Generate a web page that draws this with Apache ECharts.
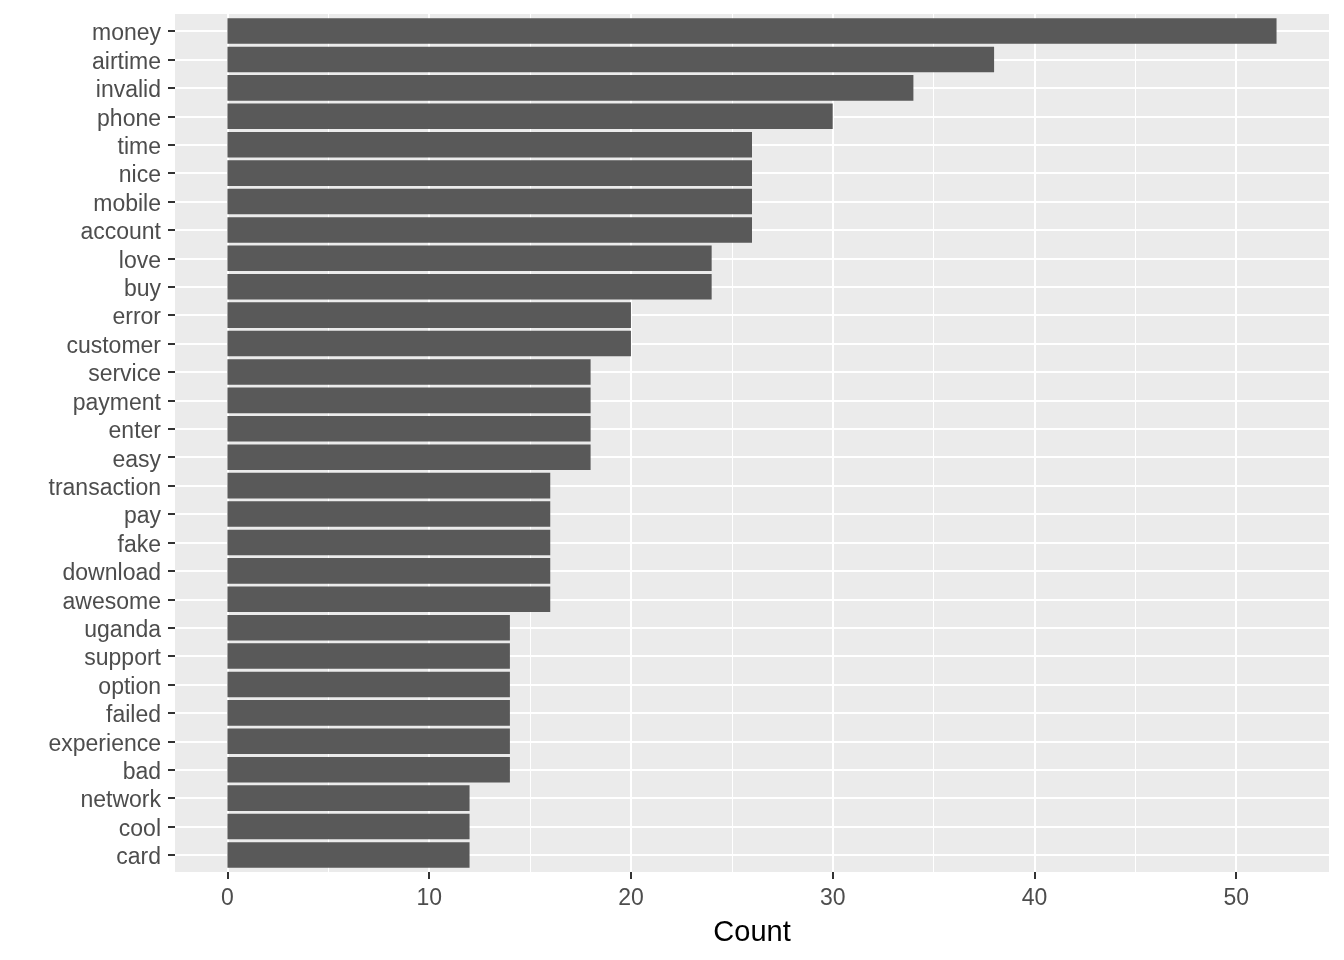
<!DOCTYPE html>
<html>
<head>
<meta charset="utf-8">
<script src="https://cdn.jsdelivr.net/npm/echarts@6/dist/echarts.min.js"></script>
<style>
  html, body { margin: 0; padding: 0; background: #fff; }
  #chart { width: 1344px; height: 960px; }
</style>
</head>
<body>
<div id="chart"></div>
<script>
let words = ['money', 'airtime', 'invalid', 'phone', 'time', 'nice', 'mobile', 'account', 'love', 'buy',
  'error', 'customer', 'service', 'payment', 'enter', 'easy', 'transaction', 'pay', 'fake', 'download',
  'awesome', 'uganda', 'support', 'option', 'failed', 'experience', 'bad', 'network', 'cool', 'card']
let counts = [52, 38, 34, 30, 26, 26, 26, 26, 24, 24,
  20, 20, 18, 18, 18, 18, 16, 16, 16, 16,
  16, 14, 14, 14, 14, 14, 14, 12, 12, 12]
let majorTicks = [0, 10, 20, 30, 40, 50]
let minorTicks = [5, 15, 25, 35, 45]

// panel box (ggplot style)
const panel = { left: 175, right: 15, top: 14, bottom: 88 }
const panelH = 960 - panel.top - panel.bottom
// discrete axis expands 0.6 on each side
const pad = 0.6 * panelH / (words.length - 1 + 1.2)
// continuous axis expands 5%
const xMax = Math.max(...counts)
const xMin = -0.05 * xMax
const xTop = xMax * 1.05

const font = 'Liberation Sans, Arial, sans-serif'
const labelColor = '#4D4D4D'

let chart = echarts.init(document.getElementById('chart'), null, { renderer: 'canvas' })

let option = {
  backgroundColor: '#ffffff',
  animation: false,
  grid: [
    { // the grey panel
      left: panel.left, right: panel.right, top: panel.top, bottom: panel.bottom,
      show: true, backgroundColor: '#EBEBEB', borderWidth: 0
    },
    { // bars, inset by the discrete expansion
      left: panel.left, right: panel.right, top: panel.top + pad, bottom: panel.bottom + pad
    }
  ],
  xAxis: [
    {
      gridIndex: 1, type: 'value', min: xMin, max: xTop, show: false
    },
    {
      gridIndex: 0, type: 'value', min: xMin, max: xTop,
      axisLine: { show: false, onZero: false },
      axisTick: { show: true, length: 7, customValues: majorTicks, lineStyle: { color: '#333333', width: 2 } },
      axisLabel: { customValues: majorTicks, margin: 15, fontSize: 23, fontFamily: font, color: labelColor },
      splitLine: { show: true, lineStyle: { color: '#ffffff', width: 2 } },
      name: 'Count', nameLocation: 'middle', nameGap: 46,
      nameTextStyle: { fontSize: 29, fontFamily: font, color: '#000000' }
    },
    {
      gridIndex: 0, type: 'value', min: xMin, max: xTop,
      axisLine: { show: false, onZero: false },
      axisTick: { show: false, customValues: minorTicks },
      axisLabel: { show: false, customValues: minorTicks },
      splitLine: { show: true, lineStyle: { color: '#ffffff', width: 1 } }
    }
  ],
  yAxis: [
    {
      gridIndex: 1, type: 'category', data: words, inverse: true, boundaryGap: false,
      position: 'left',
      axisLine: { show: false, onZero: false },
      axisTick: { show: true, interval: 0, length: 7, lineStyle: { color: '#333333', width: 2 } },
      axisLabel: {
        interval: 0, margin: 14, formatter: '{w|{value}}',
        rich: { w: { fontSize: 23, fontFamily: font, color: labelColor, padding: [6, 0, 0, 0] } }
      },
      splitLine: { show: true, interval: 0, lineStyle: { color: '#ffffff', width: 2 } }
    },
    {
      gridIndex: 0, type: 'value', show: false
    }
  ],
  series: [{
    type: 'bar',
    xAxisIndex: 0,
    yAxisIndex: 0,
    data: counts,
    barWidth: '90%',
    clip: false,
    silent: true,
    itemStyle: { color: '#595959' }
  }]
}

chart.setOption(option)
</script>
</body>
</html>
